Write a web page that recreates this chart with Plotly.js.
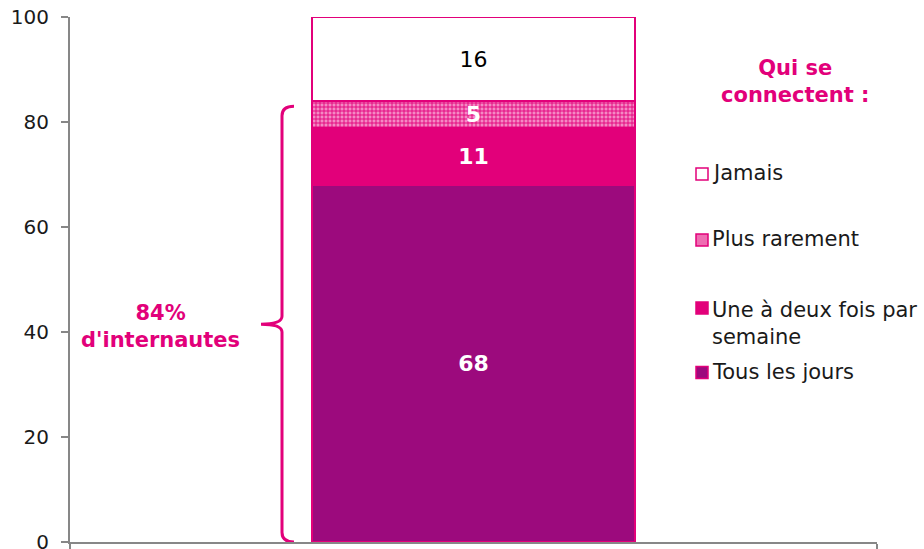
<!DOCTYPE html>
<html><head><meta charset="utf-8">
<script src="https://cdn.plot.ly/plotly-3.0.1.min.js"></script>
<style>html,body{margin:0;padding:0;background:#fff}#chart{width:924px;height:549px}</style>
</head><body><div id="chart"></div>
<script>
// ---- data ----
const categories = ['Ensemble'];
const seriesNames = ['Tous les jours', 'Une à deux fois par semaine', 'Plus rarement', 'Jamais'];
const legendLabels = ['Tous les jours', 'Une à deux fois par<br>semaine', 'Plus rarement', 'Jamais'];
const tousLesJours = [68];
const uneADeuxFois = [11];
const plusRarement = [5];
const jamais = [16];
const yTickVals = [0, 20, 40, 60, 80, 100];
const legendTitle = 'Qui se<br>connectent :';
const braceLabel = "84%<br>d'internautes";
const braceRange = [0, 83];

// ---- styles ----
const PINK = '#E2007A';
const PURPLE = '#9C0A7D';
const FONT = 'DejaVu Sans, Verdana, sans-serif';
const L = 70, R = 877, T = 17, B = 542, W = 924, H = 549;
const px = x => (x - L) / (R - L);
const py = y => (B - y) / (B - T);

const values = [tousLesJours, uneADeuxFois, plusRarement, jamais];
const fills = [PURPLE, PINK, '#F27DBC', '#FFFFFF'];
const textColors = ['#FFFFFF', '#FFFFFF', '#FFFFFF', '#000000'];
const textWeights = ['bold', 'bold', 'bold', 'normal'];

const traces = values.map((v, i) => {
  const t = {
    type: 'bar', x: categories, y: v, name: seriesNames[i],
    width: 0.4,
    text: v.map(String), textposition: 'inside', insidetextanchor: 'middle',
    textangle: 0, constraintext: 'none', cliponaxis: false,
    textfont: {family: FONT, size: 22, color: textColors[i], weight: textWeights[i]},
    marker: {color: fills[i], line: {color: PINK, width: 1.5}},
    hoverinfo: 'skip', showlegend: false
  };
  if (i === 2) {
    t.marker.pattern = {shape: '+', fgcolor: PINK, bgcolor: '#F48AC4', size: 4, solidity: 0.4};
  }
  return t;
});

// manual legend
const swatchFill = [PURPLE, PINK, '#EE6EB2', '#FFFFFF'];
const swatchCenters = [372.5, 308, 240, 174];
const shapes = [];
const annotations = [];
const SW = 12, SX = 696, TX = 710;
for (let i = 0; i < 4; i++) {
  const c = swatchCenters[i];
  shapes.push({type: 'rect', xref: 'paper', yref: 'paper',
    x0: px(SX), x1: px(SX + SW), y0: py(c + SW / 2), y1: py(c - SW / 2),
    fillcolor: swatchFill[i], line: {color: PINK, width: 1.5}});
  const twoLine = legendLabels[i].indexOf('<br>') >= 0;
  annotations.push({xref: 'paper', yref: 'paper', x: px(TX), y: twoLine ? py(c - 12) : py(c - 1),
    xanchor: 'left', yanchor: twoLine ? 'top' : 'middle', align: 'left', showarrow: false,
    text: legendLabels[i], font: {family: FONT, size: 21, color: '#1a1a1a'}});
}
annotations.push({xref: 'paper', yref: 'paper', x: px(795), y: py(81), xanchor: 'center', yanchor: 'middle',
  showarrow: false, align: 'center', text: legendTitle,
  font: {family: FONT, size: 21, color: PINK, weight: 'bold'}});
annotations.push({xref: 'paper', yref: 'paper', x: px(160), y: py(326), xanchor: 'center', yanchor: 'middle',
  showarrow: false, align: 'center', text: braceLabel,
  font: {family: FONT, size: 21, color: PINK, weight: 'bold'}});

// brace (x in paper, y in data units)
const bx = px(282), bxt = px(294), bxm = px(261);
const y0 = braceRange[0], y1 = braceRange[1], ym = (y0 + y1) / 2;
const d = 1.8, dm = 1.5;
const bracePath = `M${bxt},${y1} Q${bx},${y1} ${bx},${y1 - d} L${bx},${ym + dm} Q${bx},${ym} ${bxm},${ym} ` +
  `Q${bx},${ym} ${bx},${ym - dm} L${bx},${y0 + d} Q${bx},${y0} ${bxt},${y0}`;
shapes.push({type: 'path', xref: 'paper', yref: 'y', path: bracePath, line: {color: PINK, width: 3}});

const layout = {
  width: W, height: H,
  margin: {l: L, r: W - R, t: T, b: H - B, pad: 0},
  paper_bgcolor: '#fff', plot_bgcolor: '#fff',
  barmode: 'stack', showlegend: false,
  font: {family: FONT, size: 20, color: '#1a1a1a'},
  xaxis: {type: 'category', showticklabels: false, showline: true, linecolor: '#878787', linewidth: 2,
    ticks: 'outside', tickson: 'boundaries', ticklen: 7, tickcolor: '#878787', tickwidth: 2,
    showgrid: false, zeroline: false, fixedrange: true},
  yaxis: {range: [0, 100], tickvals: yTickVals, ticktext: yTickVals.map(String), showline: true,
    linecolor: '#878787', linewidth: 2, ticks: 'outside', ticklen: 7, tickcolor: '#878787', tickwidth: 2,
    showgrid: false, zeroline: false, tickfont: {family: FONT, size: 20, color: '#1a1a1a'},
    ticklabelstandoff: 8, ticklabeloverflow: 'allow', fixedrange: true},
  shapes: shapes, annotations: annotations
};

Plotly.newPlot('chart', traces, layout, {displayModeBar: false, staticPlot: true});
</script>
</body></html>
